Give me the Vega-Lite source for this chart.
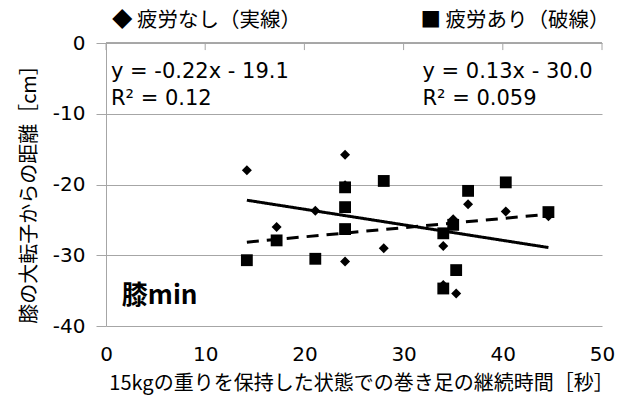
{
  "$schema": "https://vega.github.io/schema/vega-lite/v6.json",
  "width": 496,
  "height": 283,
  "autosize": {"type": "none"},
  "padding": {"left": 106, "top": 43, "right": 22, "bottom": 77},
  "background": "white",
  "config": {
    "view": {"stroke": null},
    "font": "Noto Sans CJK JP",
    "axis": {
      "labelFont": "DejaVu Sans", "titleFont": "Noto Sans CJK JP",
      "labelColor": "black", "titleColor": "black"
    }
  },
  "resolve": {"axis": {"x": "independent", "y": "independent"}},
  "datasets": {
    "points": [
      {"t": 14.2, "d": -18.0, "g": "疲労なし"},
      {"t": 17.2, "d": -26.0, "g": "疲労なし"},
      {"t": 21.1, "d": -23.7, "g": "疲労なし"},
      {"t": 24.1, "d": -15.8, "g": "疲労なし"},
      {"t": 24.1, "d": -20.1, "g": "疲労なし"},
      {"t": 24.1, "d": -30.9, "g": "疲労なし"},
      {"t": 28.0, "d": -29.0, "g": "疲労なし"},
      {"t": 34.0, "d": -28.7, "g": "疲労なし"},
      {"t": 34.0, "d": -34.2, "g": "疲労なし"},
      {"t": 35.0, "d": -24.9, "g": "疲労なし"},
      {"t": 35.3, "d": -35.4, "g": "疲労なし"},
      {"t": 36.5, "d": -22.8, "g": "疲労なし"},
      {"t": 40.3, "d": -23.8, "g": "疲労なし"},
      {"t": 44.6, "d": -24.5, "g": "疲労なし"},
      {"t": 14.2, "d": -30.7, "g": "疲労あり"},
      {"t": 17.2, "d": -27.9, "g": "疲労あり"},
      {"t": 21.1, "d": -30.5, "g": "疲労あり"},
      {"t": 24.1, "d": -20.4, "g": "疲労あり"},
      {"t": 24.1, "d": -23.2, "g": "疲労あり"},
      {"t": 24.1, "d": -26.3, "g": "疲労あり"},
      {"t": 28.0, "d": -19.5, "g": "疲労あり"},
      {"t": 34.0, "d": -26.9, "g": "疲労あり"},
      {"t": 34.0, "d": -34.7, "g": "疲労あり"},
      {"t": 35.0, "d": -25.7, "g": "疲労あり"},
      {"t": 35.3, "d": -32.1, "g": "疲労あり"},
      {"t": 36.5, "d": -20.9, "g": "疲労あり"},
      {"t": 40.3, "d": -19.7, "g": "疲労あり"},
      {"t": 44.6, "d": -23.9, "g": "疲労あり"}
    ],
    "trends": [
      {"t": 14.2, "d": -22.22, "g": "疲労なし"},
      {"t": 44.6, "d": -28.91, "g": "疲労なし"},
      {"t": 14.2, "d": -28.15, "g": "疲労あり"},
      {"t": 44.6, "d": -24.20, "g": "疲労あり"}
    ],
    "labels": [
      {"t": 0.5, "d": -4.1, "s": "y = -0.22x - 19.1"},
      {"t": 0.5, "d": -7.9, "s": "R² = 0.12"},
      {"t": 31.9, "d": -4.1, "s": "y = 0.13x - 30.0"},
      {"t": 31.9, "d": -7.9, "s": "R² = 0.059"}
    ],
    "legend": [
      {"t": 0.6, "d": 3.1, "s": "◆ 疲労なし（実線）"},
      {"t": 31.7, "d": 3.1, "s": "■ 疲労あり（破線）"}
    ],
    "frame": [
      {"t": 0}, {"t": 10}, {"t": 20}, {"t": 30}, {"t": 40}, {"t": 50}
    ]
  },
  "layer": [
    {
      "data": {"name": "points"},
      "mark": {"type": "point", "filled": true, "opacity": 1, "color": "black", "strokeWidth": 0},
      "encoding": {
        "x": {
          "field": "t", "type": "quantitative",
          "scale": {"domain": [0, 50], "nice": false},
          "axis": {
            "orient": "bottom", "values": [0, 10, 20, 30, 40, 50],
            "domain": false, "ticks": false, "grid": false, "labelFlush": false,
            "labelFontSize": 20, "labelPadding": 18,
            "title": "15kgの重りを保持した状態での巻き足の継続時間［秒］",
            "titleFontSize": 20, "titleFontWeight": "normal", "titlePadding": 9, "titleX": 255
          }
        },
        "y": {
          "field": "d", "type": "quantitative",
          "scale": {"domain": [-40, 0], "nice": false},
          "axis": {
            "values": [-40, -30, -20, -10, 0],
            "labelExpr": "replace(datum.label, '−', '-')",
            "domainColor": "#a6a6a6", "tickColor": "#a6a6a6", "tickSize": 10,
            "gridColor": "#a6a6a6", "gridWidth": 1,
            "labelFontSize": 20, "labelPadding": 11,
            "title": "膝の大転子からの距離［cm］",
            "titleFontSize": 20, "titleFontWeight": "normal", "titlePadding": 13, "titleY": 146
          }
        },
        "shape": {
          "field": "g", "type": "nominal",
          "scale": {"domain": ["疲労なし", "疲労あり"], "range": ["diamond", "square"]},
          "legend": null
        },
        "size": {
          "field": "g", "type": "nominal",
          "scale": {"domain": ["疲労なし", "疲労あり"], "range": [100, 140]},
          "legend": null
        }
      }
    },
    {
      "data": {"name": "frame"},
      "mark": {"type": "rule", "color": "#a6a6a6", "strokeWidth": 1},
      "encoding": {
        "x": {"field": "t", "type": "quantitative", "axis": null},
        "y": {"datum": 0, "type": "quantitative", "axis": null},
        "y2": {"datum": -1}
      }
    },
    {
      "data": {"name": "frame"},
      "mark": {"type": "rule", "color": "#a6a6a6", "strokeWidth": 1},
      "encoding": {
        "x": {"datum": 0, "type": "quantitative", "axis": null},
        "x2": {"datum": 50},
        "y": {"datum": 0, "type": "quantitative", "axis": null}
      }
    },
    {
      "data": {"name": "trends"},
      "mark": {"type": "line", "color": "black", "strokeWidth": 3},
      "encoding": {
        "x": {"field": "t", "type": "quantitative", "axis": null},
        "y": {"field": "d", "type": "quantitative", "axis": null},
        "detail": {"field": "g"},
        "strokeDash": {
          "field": "g", "type": "nominal",
          "scale": {"domain": ["疲労なし", "疲労あり"], "range": [[1, 0], [12, 8]]},
          "legend": null
        }
      }
    },
    {
      "data": {"name": "labels"},
      "mark": {"type": "text", "align": "left", "baseline": "middle", "font": "DejaVu Sans", "fontSize": 21, "color": "black"},
      "encoding": {
        "x": {"field": "t", "type": "quantitative", "axis": null},
        "y": {"field": "d", "type": "quantitative", "axis": null},
        "text": {"field": "s"}
      }
    },
    {
      "data": {"name": "legend"},
      "mark": {"type": "text", "align": "left", "baseline": "middle", "fontSize": 20.5, "color": "black", "clip": false},
      "encoding": {
        "x": {"field": "t", "type": "quantitative", "axis": null},
        "y": {"field": "d", "type": "quantitative", "axis": null},
        "text": {"field": "s"}
      }
    },
    {
      "data": {"values": [{"t": 1.6, "d": -35.7, "s": "膝min"}]},
      "mark": {"type": "text", "align": "left", "baseline": "middle", "fontSize": 26, "fontWeight": "bold", "color": "black"},
      "encoding": {
        "x": {"field": "t", "type": "quantitative", "axis": null},
        "y": {"field": "d", "type": "quantitative", "axis": null},
        "text": {"field": "s"}
      }
    }
  ]
}
